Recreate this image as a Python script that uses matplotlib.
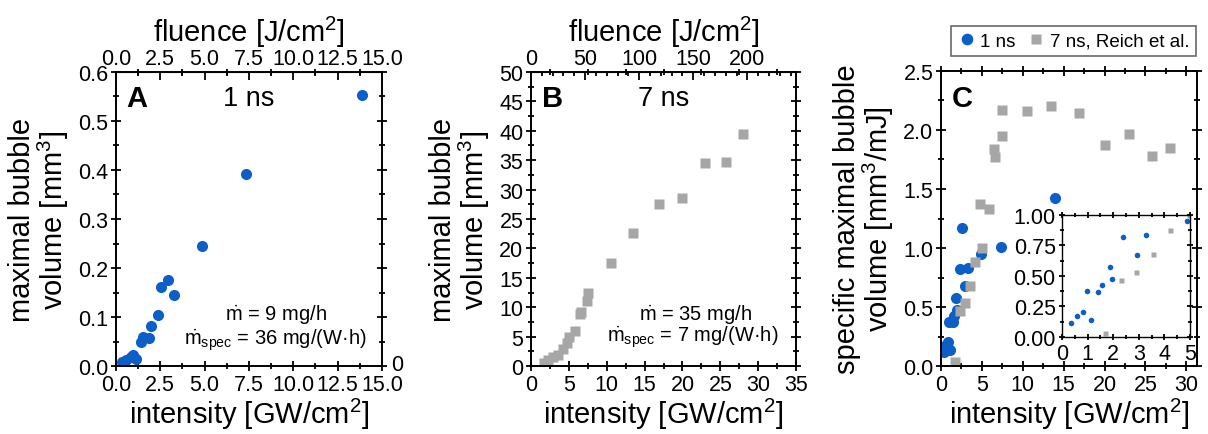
import matplotlib
matplotlib.use('Agg')
import matplotlib.pyplot as plt
from matplotlib.ticker import MultipleLocator, FormatStrFormatter

plt.rcParams['font.family'] = ['Liberation Sans', 'DejaVu Sans']
plt.rcParams['mathtext.fontset'] = 'custom'
plt.rcParams['mathtext.rm'] = 'Liberation Sans'
plt.rcParams['mathtext.it'] = 'Liberation Sans:italic'
plt.rcParams['mathtext.bf'] = 'Liberation Sans:bold'

# 1 ns data (this work)
pulse_1ns = 1.0
int_1ns = [0.35, 0.57, 0.83, 0.96, 1.12, 1.42, 1.55, 1.88, 1.95, 2.37, 2.55, 2.93, 3.27, 4.87, 7.35, 13.9]
vol_1ns = [0.008, 0.012, 0.018, 0.022, 0.014, 0.048, 0.060, 0.058, 0.082, 0.104, 0.161, 0.175, 0.145, 0.244, 0.392, 0.553]
spec_1ns = [0.115, 0.175, 0.205, 0.377, 0.139, 0.371, 0.426, 0.574, 0.473, 0.822, 1.17, 0.675, 0.834, 0.95, 1.01, 1.42]

# 7 ns data (Reich et al.)
pulse_7ns = 7.0
int_7ns = [1.7, 2.3, 2.9, 3.55, 4.2, 4.8, 4.95, 5.85, 6.45, 6.6, 7.4, 7.5, 10.5, 13.4, 16.9, 20.0, 23.0, 25.8, 28.0]
vol_7ns = [0.5, 1.1, 1.6, 1.9, 2.9, 3.9, 4.9, 6.0, 8.9, 9.2, 11.0, 12.4, 17.5, 22.6, 27.6, 28.6, 34.5, 34.7, 39.5]
spec_7ns = [0.03, 0.47, 0.53, 0.68, 0.88, 1.37, 1.0, 1.33, 1.84, 1.77, 1.95, 2.17, 2.16, 2.20, 2.14, 1.87, 1.97, 1.78, 1.85]

blue = '#0b5fc6'
grey = '#a6a6a6'
tick_fs = 15.5
label_fs = 21
note_fs = 14.5

fig = plt.figure(figsize=(12.08, 4.35), dpi=100)
axA = fig.add_axes([0.0960, 0.1563, 0.2202, 0.6759])
axB = fig.add_axes([0.4396, 0.1563, 0.2194, 0.6759])
axC = fig.add_axes([0.7790, 0.1563, 0.2119, 0.6782])
axI = fig.add_axes([0.8791, 0.2230, 0.1060, 0.2805])


def style(ax, fs=tick_fs, major=7, minor=4):
    for s in ax.spines.values():
        s.set_linewidth(1.4)
    ax.tick_params(which='both', direction='inout', top=True, right=True,
                   labelsize=fs, width=1.3, pad=2)
    ax.tick_params(which='major', length=major)
    ax.tick_params(which='minor', length=minor)


def add_top(ax, factor, step, minor):
    sec = ax.secondary_xaxis('top', functions=(lambda x: x * factor, lambda x: x / factor))
    sec.xaxis.set_major_locator(MultipleLocator(step))
    sec.xaxis.set_minor_locator(MultipleLocator(minor))
    sec.tick_params(which='both', direction='in', labelsize=tick_fs, width=1.3, pad=2)
    sec.tick_params(which='major', length=6)
    sec.tick_params(which='minor', length=3)
    sec.set_xlabel('fluence [J/cm$^2$]', fontsize=label_fs, labelpad=5)
    return sec


# Panel A
axA.plot(int_1ns, vol_1ns, 'o', color=blue, ms=8, mec='none')
axA.set_xlim(0, 15)
axA.set_ylim(0, 0.6)
axA.xaxis.set_major_locator(MultipleLocator(2.5))
axA.xaxis.set_minor_locator(MultipleLocator(1.25))
axA.yaxis.set_major_locator(MultipleLocator(0.1))
axA.yaxis.set_minor_locator(MultipleLocator(0.05))
axA.xaxis.set_major_formatter(FormatStrFormatter('%.1f'))
axA.yaxis.set_major_formatter(FormatStrFormatter('%.1f'))
style(axA)
axA.tick_params(top=False)
secA = add_top(axA, pulse_1ns, 2.5, 1.25)
secA.xaxis.set_major_formatter(FormatStrFormatter('%.1f'))
axA.set_xlabel('intensity [GW/cm$^2$]', fontsize=label_fs, labelpad=1)
axA.set_ylabel('maximal bubble\nvolume [mm$^3$]', fontsize=label_fs, labelpad=5, linespacing=1.0)
axA.text(0.04, 0.91, 'A', transform=axA.transAxes, fontsize=21, fontweight='bold', va='center')
axA.text(0.5, 0.91, '1 ns', transform=axA.transAxes, fontsize=19.5, ha='center', va='center')
axA.text(0.6, 0.18, r'$\dot{\mathrm{m}}$ = 9 mg/h', transform=axA.transAxes,
         fontsize=note_fs, ha='center', va='center')
axA.text(0.6, 0.09, r'$\dot{\mathrm{m}}_{\mathrm{spec}}$ = 36 mg/(W·h)', transform=axA.transAxes,
         fontsize=note_fs, ha='center', va='center')
fig.text(0.3235, 0.159, '0', fontsize=tick_fs, va='center')

# Panel B
axB.plot(int_7ns, vol_7ns, 's', color=grey, ms=7.2, mec='none')
axB.set_xlim(0, 35)
axB.set_ylim(0, 50)
axB.xaxis.set_major_locator(MultipleLocator(5))
axB.xaxis.set_minor_locator(MultipleLocator(2.5))
axB.yaxis.set_major_locator(MultipleLocator(5))
axB.yaxis.set_minor_locator(MultipleLocator(2.5))
style(axB)
axB.tick_params(top=False)
add_top(axB, pulse_7ns, 50, 10)
axB.set_xlabel('intensity [GW/cm$^2$]', fontsize=label_fs, labelpad=1)
axB.set_ylabel('maximal bubble\nvolume [mm$^3$]', fontsize=label_fs, labelpad=5, linespacing=1.0)
axB.text(0.04, 0.91, 'B', transform=axB.transAxes, fontsize=21, fontweight='bold', va='center')
axB.text(0.5, 0.91, '7 ns', transform=axB.transAxes, fontsize=19.5, ha='center', va='center')
axB.text(0.62, 0.18, r'$\dot{\mathrm{m}}$ = 35 mg/h', transform=axB.transAxes,
         fontsize=note_fs, ha='center', va='center')
axB.text(0.61, 0.10, r'$\dot{\mathrm{m}}_{\mathrm{spec}}$ = 7 mg/(W·h)', transform=axB.transAxes,
         fontsize=note_fs, ha='center', va='center')

# Panel C
axC.plot(int_1ns, spec_1ns, 'o', color=blue, ms=8, mec='none', label='1 ns')
axC.plot(int_7ns, spec_7ns, 's', color=grey, ms=7.2, mec='none', label='7 ns, Reich et al.')
axC.set_xlim(0, 31.3)
axC.set_ylim(0, 2.5)
axC.xaxis.set_major_locator(MultipleLocator(5))
axC.xaxis.set_minor_locator(MultipleLocator(2.5))
axC.yaxis.set_major_locator(MultipleLocator(0.5))
axC.yaxis.set_minor_locator(MultipleLocator(0.25))
axC.yaxis.set_major_formatter(FormatStrFormatter('%.1f'))
style(axC)
axC.set_xlabel('intensity [GW/cm$^2$]', fontsize=label_fs, labelpad=1)
axC.set_ylabel('specific maximal bubble\nvolume [mm$^3$/mJ]', fontsize=label_fs, labelpad=5, linespacing=1.0)
axC.text(0.04, 0.91, 'C', transform=axC.transAxes, fontsize=21, fontweight='bold', va='center')
leg = axC.legend(loc='lower right', bbox_to_anchor=(0.995, 1.05), ncol=2, fontsize=13.5,
                 frameon=True, fancybox=False, edgecolor='#444444', handletextpad=0.2,
                 columnspacing=0.6, handlelength=1.0, borderpad=0.35, borderaxespad=0,
                 markerscale=1.05)
leg.get_frame().set_linewidth(1.2)

# inset
axI.plot(int_1ns, spec_1ns, 'o', color=blue, ms=4, mec='none')
axI.plot(int_7ns, spec_7ns, 's', color=grey, ms=3.6, mec='none')
axI.set_xlim(0, 5)
axI.set_ylim(0, 1)
axI.xaxis.set_major_locator(MultipleLocator(1))
axI.xaxis.set_minor_locator(MultipleLocator(0.5))
axI.yaxis.set_major_locator(MultipleLocator(0.25))
axI.yaxis.set_minor_locator(MultipleLocator(0.125))
axI.yaxis.set_major_formatter(FormatStrFormatter('%.2f'))
style(axI, fs=tick_fs, major=5, minor=3)
for s in axI.spines.values():
    s.set_linewidth(1.0)

fig.savefig('out.png', dpi=100)
